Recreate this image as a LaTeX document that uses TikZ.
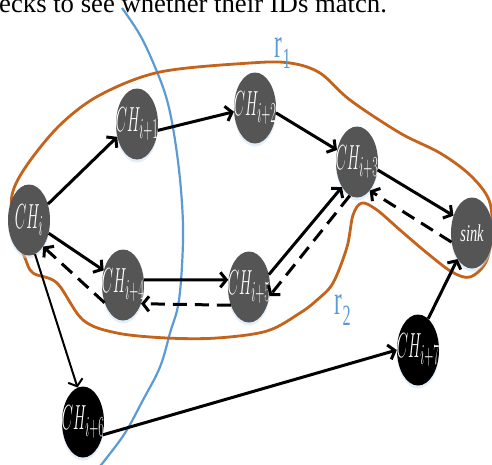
\documentclass[tikz,border=0pt]{standalone}
\usepackage{fontspec}
\setmainfont{Liberation Serif}
\usetikzlibrary{shapes.geometric,arrows.meta,shadows}
\definecolor{nodegray}{RGB}{85,85,85}
\definecolor{orng}{RGB}{196,100,28}
\definecolor{bluearc}{RGB}{91,155,213}
\definecolor{glow}{RGB}{200,222,245}
\newcommand{\mychlab}[1]{\makebox[0pt]{\scalebox{0.6}[1.4]{\fontsize{24.88}{25}\selectfont$CH_{#1}$}}}
\begin{document}
\begin{tikzpicture}[x=1pt,y=-1pt,
  ch/.style={ellipse, fill=nodegray, minimum width=42pt, minimum height=71pt, inner sep=0pt, text=white,
    drop shadow={fill=glow, shadow xshift=0pt, shadow yshift=-3pt}},
  chb/.style={ch, fill=black},
  arr/.style={line width=3pt, -{Straight Barb[length=6pt,width=15pt]}},
  darr/.style={arr, dash pattern=on 14pt off 8pt},
  rlab/.style={text=bluearc, inner sep=0pt}
]
\clip (0,0) rectangle (492,464);
\fill[white] (0,0) rectangle (492,464);

% caption fragment
\node[anchor=base west, inner sep=0pt, font=\fontsize{26.7}{30}\selectfont] (cap) at (-1,12) {ecks to see whether their IDs match.};

% blue arc
\draw[bluearc, line width=2.2pt] plot[smooth, tension=0.6] coordinates {(122,8) (140,35) (155,67) (167,100) (175,140) (181,190) (183,240) (179,300) (170,333) (160,367) (143,400) (125,433) (105,460) (100,466)};

% orange region
\draw[orng, line width=2.8pt] plot[smooth cycle, tension=0.55] coordinates {
 (12,195) (27,165) (60,125) (100,95) (160,72) (250,63) (290,63) (320,73) (350,100) (400,133) (440,153) (470,175)
 (489,200) (492,232) (486,262) (470,277) (452,272) (427,253) (400,230) (377,210) (362,203) (353,215) (347,247)
 (333,283) (317,300) (300,313) (267,331) (217,338) (167,338) (117,333) (83,320) (57,283) (33,273) (25,258) (14,228)};

% labels
\node[rlab] (r1) at (283,53) {\scalebox{0.55}[1]{\fontsize{42}{42}\selectfont r\textsubscript{1}}};
\node[rlab] (r2) at (343,310) {\scalebox{0.55}[1]{\fontsize{42}{42}\selectfont r\textsubscript{2}}};

% nodes
\node[ch] (chi) at (29,220) {\mychlab{i}};
\node[ch] (ch1) at (137,124) {\mychlab{i+1}};
\node[ch] (ch2) at (255,108) {\mychlab{i+2}};
\node[ch] (ch3) at (357,162) {\mychlab{i+3}};
\node[ch] (sink) at (472,233) {\makebox[0pt]{\scalebox{0.6}[1]{\fontsize{24}{24}\selectfont\itshape sink}}};
\node[ch] (ch4) at (123,285) {\mychlab{i+4}};
\node[ch] (ch5) at (249,287) {\mychlab{i+5}};
\node[chb] (ch6) at (83,422) {\mychlab{i+6}};
\node[chb] (ch7) at (418,350) {\mychlab{i+7}};

% edges
\draw[arr] (chi.40) -- (ch1.-147);
\draw[arr] (ch1.-17) -- (ch2.190);
\draw[arr] (ch2.-13) -- (ch3.149);
\draw[arr] (ch3.-21) -- (sink.137);
\draw[darr] (sink.204) -- (ch3.-66);
\draw[arr] (chi.-34) -- (ch4.143);
\draw[darr] (ch4.224) -- (chi.-62);
\draw[arr] (ch4.14) -- (ch5.161);
\draw[darr] (ch5.225) -- (ch4.-46);
\draw[arr] (ch5.32) -- (ch3.-121);
\draw[darr] (ch3.-102) -- (ch5.-24);
\draw[arr, line width=2pt] (chi.-80) -- (ch6.99);
\draw[arr] (ch6.-33) -- (ch7.180);
\draw[arr] (ch7.72) -- (sink.241);
\end{tikzpicture}
\end{document}
